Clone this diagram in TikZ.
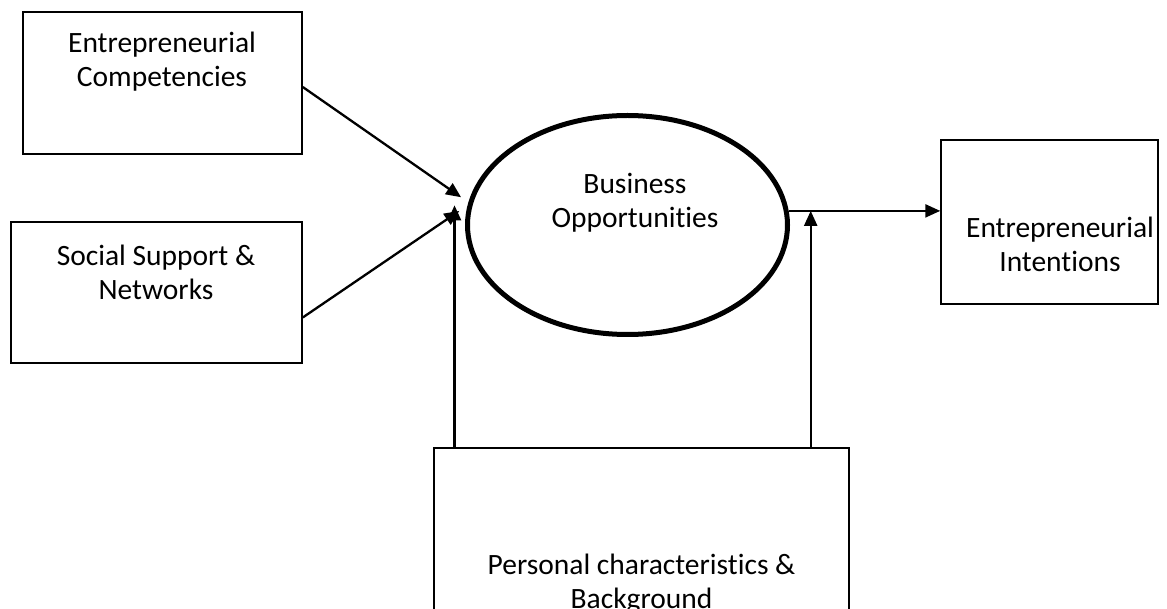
\documentclass[tikz,border=0pt]{standalone}
\usepackage{fontspec}
\setmainfont{Carlito}[RawFeature={-liga;-clig;-dlig;-rlig;-calt}]
\usetikzlibrary{arrows.meta,shapes.geometric}

\begin{document}
\begin{tikzpicture}[
  x=1pt, y=-1pt,
  >={Triangle[length=15pt,width=13pt]},
  box/.style={draw, line width=1.5pt, inner sep=0pt},
  txt/.style={align=center, inner sep=0pt, font=\fontsize{29.5}{34}\selectfont},
  link/.style={->, line width=2.3pt}
]
  \useasboundingbox (0,0) rectangle (1167,609);
  \clip (0,0) rectangle (1167,609);

  % boxes and the central ellipse
  \node[box, minimum width=279pt, minimum height=142pt] (cBox) at (162.5,83) {};
  \node[box, minimum width=291pt, minimum height=141pt] (sBox) at (156.5,292.5) {};
  \node[box, minimum width=217pt, minimum height=164pt] (iBox) at (1049.5,222) {};
  \node[box, minimum width=415pt, minimum height=232pt] (pBox) at (641.5,564) {};
  \node[draw, ellipse, line width=5pt, inner sep=0pt,
        minimum width=320pt, minimum height=219pt] (bOpp) at (627.5,225) {};

  % texts
  \node[txt] (tComp) at (162,62) {Entrepreneurial\\Competencies};
  \node[txt] (tSoc) at (156,272) {Social Support \&\\Networks};
  \node[txt] (tOpp) at (635,203) {Business\\Opportunities};
  \node[txt] (tInt) at (1060,244) {Entrepreneurial\\Intentions};
  \node[txt] (tPers) at (641.5,584) {Personal characteristics \&\\Background};

  % meeting points on the ellipse
  \coordinate (inC) at ([xshift=-9pt]bOpp.170);
  \coordinate (inS) at ([xshift=-7pt]bOpp.175);
  \coordinate (lUp) at ([xshift=-13pt]bOpp.173);
  \coordinate (rUp) at ([xshift=22pt]bOpp.5);

  \draw[link] ([yshift=-4pt]cBox.east) -- (inC);
  \draw[link] ([yshift=-25pt]sBox.east) -- (inS);
  \draw[link] (lUp |- pBox.north) -- (lUp);
  \draw[link] (bOpp.5) -- (bOpp.5 -| iBox.west);
  \draw[link] (rUp |- pBox.north) -- (rUp);
\end{tikzpicture}
\end{document}
